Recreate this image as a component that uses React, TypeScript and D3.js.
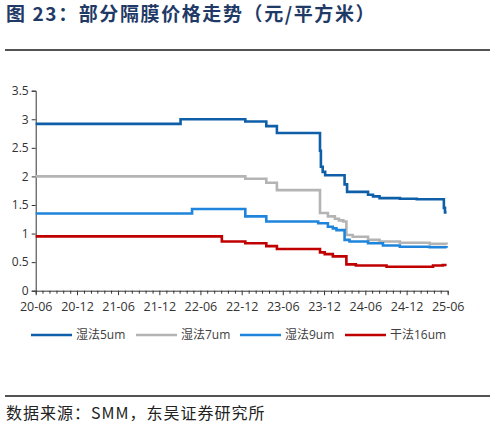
import React, { useRef, useEffect } from 'react';
import * as d3 from 'd3';

// price series, yuan per square metre (step changes)
const wet5Dates = ['2020-06-01', '2022-03-05', '2022-12-17', '2023-03-20', '2023-05-06', '2023-11-13', '2023-11-17', '2023-11-25', '2023-12-06', '2024-03-01', '2024-03-12', '2024-06-13', '2024-07-05', '2024-08-03', '2024-11-01', '2025-01-15', '2025-05-15', '2025-05-20', '2025-05-27'];
const wet5Values = [2.92, 3.0, 2.96, 2.88, 2.76, 2.45, 2.17, 2.08, 2.02, 1.86, 1.73, 1.68, 1.65, 1.62, 1.61, 1.6, 1.45, 1.37, 1.37];

const wet7Dates = ['2020-06-01', '2022-12-17', '2023-03-20', '2023-05-06', '2023-11-13', '2023-12-18', '2024-01-18', '2024-02-05', '2024-02-24', '2024-03-09', '2024-04-06', '2024-06-13', '2024-08-03', '2024-11-01', '2025-03-13', '2025-05-27'];
const wet7Values = [2.0, 1.96, 1.89, 1.76, 1.36, 1.3, 1.26, 1.23, 1.21, 0.975, 0.945, 0.89, 0.86, 0.84, 0.82, 0.81];

const wet9Dates = ['2020-06-01', '2022-04-25', '2022-12-17', '2023-03-20', '2023-11-05', '2023-12-18', '2024-01-09', '2024-01-25', '2024-03-01', '2024-03-23', '2024-06-13', '2024-08-18', '2024-11-01', '2025-03-13', '2025-05-27'];
const wet9Values = [1.35, 1.43, 1.3, 1.21, 1.18, 1.12, 1.09, 1.06, 0.89, 0.86, 0.83, 0.79, 0.77, 0.76, 0.75];

const dry16Dates = ['2020-06-01', '2022-09-04', '2022-12-17', '2023-03-20', '2023-05-06', '2023-11-13', '2023-12-04', '2024-01-09', '2024-03-09', '2024-04-20', '2024-09-03', '2025-03-28', '2025-05-10', '2025-05-27'];
const dry16Values = [0.95, 0.86, 0.83, 0.78, 0.73, 0.67, 0.64, 0.6, 0.46, 0.44, 0.42, 0.44, 0.45, 0.45];

const seriesNames = ['湿法5um', '湿法7um', '湿法9um', '干法16um'];
const seriesColors = ['#0f5fa8', '#b4b4b4', '#1f85dc', '#c00000'];
const yTicks = [0, 0.5, 1, 1.5, 2, 2.5, 3, 3.5];

const title = '图 23：部分隔膜价格走势（元/平方米）';
const source = '数据来源：SMM，东吴证券研究所';

const W = 495;
const H = 434;
const font = "'Open Sans', 'Noto Sans CJK SC', sans-serif";

const App: React.FC = () => {
  const svgRef = useRef<SVGSVGElement>(null);

  useEffect(() => {
    if (!svgRef.current) return;
    const svg = d3.select(svgRef.current);
    svg.selectAll('*').remove();

    const parse = d3.timeParse('%Y-%m-%d');
    const series = [
      [wet5Dates, wet5Values],
      [wet7Dates, wet7Values],
      [wet9Dates, wet9Values],
      [dry16Dates, dry16Values],
    ].map(([ds, vs]) =>
      (ds as string[]).map((d, i) => ({ date: parse(d)!, value: (vs as number[])[i] }))
    );

    const x = d3
      .scaleTime()
      .domain([parse('2020-06-01')!, parse('2025-06-01')!])
      .range([35.7, 447.7]);
    const y = d3.scaleLinear().domain([0, 3.5]).range([290.7, 90.7]);

    // title + rules
    svg
      .append('text')
      .attr('x', 6)
      .attr('y', 21)
      .attr('fill', '#1f3a66')
      .attr('font-family', "'Noto Sans CJK SC', sans-serif")
      .attr('font-weight', 'bold')
      .attr('font-size', '19px')
      .attr('letter-spacing', '1.6px')
      .text(title);

    [50, 396].forEach((ry) => {
      svg
        .append('line')
        .attr('x1', 5)
        .attr('x2', 490)
        .attr('y1', ry)
        .attr('y2', ry)
        .attr('stroke', '#1a1a1a')
        .attr('stroke-width', 1.6);
    });

    // y axis
    const yAxis = svg
      .append('g')
      .attr('transform', `translate(${x.range()[0]},0)`)
      .call(
        d3
          .axisLeft(y)
          .tickValues(yTicks)
          .tickSize(4)
          .tickPadding(3)
          .tickFormat((d) => String(d))
      );

    // x axis, monthly ticks, labels every 6 months
    const months = d3.timeMonth.range(x.domain()[0], d3.timeDay.offset(x.domain()[1], 1));
    const xAxis = svg
      .append('g')
      .attr('transform', `translate(0,${y(0)})`)
      .call(
        d3
          .axisBottom(x)
          .tickValues(months)
          .tickSize(3)
          .tickPadding(8)
          .tickFormat((d) => {
            const dt = d as Date;
            return dt.getMonth() === 5 || dt.getMonth() === 11 ? d3.timeFormat('%y-%m')(dt) : '';
          })
      );
    xAxis
      .selectAll<SVGLineElement, Date>('.tick line')
      .attr('y2', (d) => (d.getMonth() === 5 || d.getMonth() === 11 ? 4.5 : 3));

    [yAxis, xAxis].forEach((g) => {
      g.select('.domain').attr('stroke', '#333');
      g.selectAll('.tick line').attr('stroke', '#333');
      g.selectAll('.tick text')
        .attr('fill', '#333')
        .attr('font-size', '12px')
        .attr('font-family', font);
    });
    xAxis.selectAll('.tick text').attr('font-size', '12.5px');

    // lines
    const line = d3
      .line<{ date: Date; value: number }>()
      .x((d) => x(d.date))
      .y((d) => y(d.value))
      .curve(d3.curveStepAfter);

    series.forEach((s, i) => {
      svg
        .append('path')
        .datum(s)
        .attr('fill', 'none')
        .attr('stroke', seriesColors[i])
        .attr('stroke-width', 2.6)
        .attr('d', line);
    });

    // legend
    const legendX = [31, 136, 240, 345];
    const legend = svg.append('g').attr('transform', 'translate(0,335)');
    seriesNames.forEach((name, i) => {
      legend
        .append('line')
        .attr('x1', legendX[i])
        .attr('x2', legendX[i] + 41)
        .attr('y1', 0)
        .attr('y2', 0)
        .attr('stroke', seriesColors[i])
        .attr('stroke-width', 2.6);
      legend
        .append('text')
        .attr('x', legendX[i] + 45)
        .attr('y', 0)
        .attr('dy', '0.36em')
        .attr('fill', '#404040')
        .attr('font-size', '12px')
        .attr('font-family', font)
        .text(name);
    });

    // source
    svg
      .append('text')
      .attr('x', 6)
      .attr('y', 419)
      .attr('fill', '#222')
      .attr('font-family', "'Noto Sans CJK SC', sans-serif")
      .attr('font-size', '16px')
      .attr('letter-spacing', '1px')
      .text(source);
  }, []);

  return (
    <div style={{ position: 'fixed', left: 0, top: 0, width: W, height: H, background: '#fff' }}>
      <svg ref={svgRef} width={W} height={H} />
    </div>
  );
};

export default App;
